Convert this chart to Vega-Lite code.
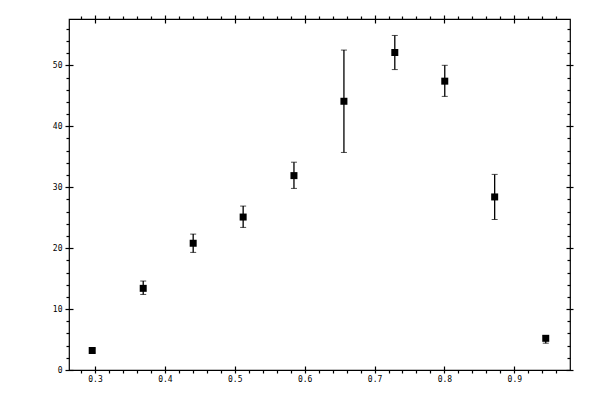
{
  "$schema": "https://vega.github.io/schema/vega-lite/v6.json",
  "autosize": {"type": "none"},
  "padding": {"left": 69, "top": 19, "right": 30, "bottom": 30},
  "width": 501,
  "height": 351,
  "background": "white",
  "config": {
    "view": {"stroke": "black", "strokeWidth": 1.2},
    "axis": {
      "domain": false,
      "grid": false,
      "title": null,
      "tickColor": "black",
      "tickWidth": 1.2,
      "labelFont": "DejaVu Sans Mono",
      "labelFontSize": 8,
      "labelColor": "black"
    }
  },
  "data": {
    "values": [
      {"x": 0.296, "y": 3.2, "lo": 2.9, "hi": 3.5},
      {"x": 0.369, "y": 13.4, "lo": 12.4, "hi": 14.6},
      {"x": 0.4405, "y": 20.8, "lo": 19.3, "hi": 22.3},
      {"x": 0.512, "y": 25.1, "lo": 23.4, "hi": 26.9},
      {"x": 0.5847, "y": 31.9, "lo": 29.8, "hi": 34.1},
      {"x": 0.6562, "y": 44.1, "lo": 35.7, "hi": 52.5},
      {"x": 0.729, "y": 52.1, "lo": 49.3, "hi": 54.9},
      {"x": 0.8005, "y": 47.4, "lo": 44.9, "hi": 50.0},
      {"x": 0.8719, "y": 28.4, "lo": 24.7, "hi": 32.1},
      {"x": 0.945, "y": 5.2, "lo": 4.4, "hi": 5.6}
    ]
  },
  "resolve": {"axis": {"x": "independent", "y": "independent"}},
  "layer": [
    {
      "mark": {"type": "errorbar", "ticks": {"size": 6, "color": "black"}, "rule": {"strokeWidth": 1.3, "color": "black"}},
      "encoding": {
        "x": {"field": "x", "type": "quantitative", "axis": null,
              "scale": {"domain": [0.2628, 0.9797], "nice": false, "zero": false}},
        "y": {"field": "lo", "type": "quantitative", "axis": null,
              "scale": {"domain": [0, 57.6], "nice": false}},
        "y2": {"field": "hi"}
      }
    },
    {
      "mark": {"type": "square", "size": 49, "color": "black", "opacity": 1},
      "encoding": {
        "x": {"field": "x", "type": "quantitative",
              "scale": {"domain": [0.2628, 0.9797], "nice": false, "zero": false},
              "axis": {"orient": "bottom", "values": [0.3, 0.4, 0.5, 0.6, 0.7, 0.8, 0.9],
                       "offset": -4, "tickSize": 7, "labelPadding": 2, "format": ".1f"}},
        "y": {"field": "y", "type": "quantitative",
              "scale": {"domain": [0, 57.6], "nice": false},
              "axis": {"orient": "left", "values": [0, 10, 20, 30, 40, 50],
                       "offset": -4, "tickSize": 8, "labelPadding": 3, "format": "d"}}
      }
    },
    {
      "mark": {"type": "point", "opacity": 0},
      "encoding": {
        "x": {"field": "x", "type": "quantitative",
              "axis": {"orient": "top", "values": [0.3, 0.4, 0.5, 0.6, 0.7, 0.8, 0.9],
                       "offset": -4, "tickSize": 8, "labels": false}},
        "y": {"field": "y", "type": "quantitative",
              "axis": {"orient": "right", "values": [0, 10, 20, 30, 40, 50],
                       "offset": -4, "tickSize": 7, "labels": false}}
      }
    },
    {
      "mark": {"type": "point", "opacity": 0},
      "encoding": {
        "x": {"field": "x", "type": "quantitative",
              "axis": {"orient": "bottom",
                       "values": [0.28, 0.32, 0.34, 0.36, 0.38, 0.42, 0.44, 0.46, 0.48, 0.52, 0.54, 0.56, 0.58, 0.62, 0.64, 0.66, 0.68, 0.72, 0.74, 0.76, 0.78, 0.82, 0.84, 0.86, 0.88, 0.92, 0.94, 0.96],
                       "tickSize": 3, "labels": false}},
        "y": {"field": "y", "type": "quantitative",
              "axis": {"orient": "left",
                       "values": [2, 4, 6, 8, 12, 14, 16, 18, 22, 24, 26, 28, 32, 34, 36, 38, 42, 44, 46, 48, 52, 54, 56],
                       "tickSize": 3, "labels": false}}
      }
    },
    {
      "mark": {"type": "point", "opacity": 0},
      "encoding": {
        "x": {"field": "x", "type": "quantitative",
              "axis": {"orient": "top",
                       "values": [0.28, 0.32, 0.34, 0.36, 0.38, 0.42, 0.44, 0.46, 0.48, 0.52, 0.54, 0.56, 0.58, 0.62, 0.64, 0.66, 0.68, 0.72, 0.74, 0.76, 0.78, 0.82, 0.84, 0.86, 0.88, 0.92, 0.94, 0.96],
                       "tickSize": 3, "labels": false}},
        "y": {"field": "y", "type": "quantitative",
              "axis": {"orient": "right",
                       "values": [2, 4, 6, 8, 12, 14, 16, 18, 22, 24, 26, 28, 32, 34, 36, 38, 42, 44, 46, 48, 52, 54, 56],
                       "offset": -3, "tickSize": 3, "labels": false}}
      }
    }
  ]
}
